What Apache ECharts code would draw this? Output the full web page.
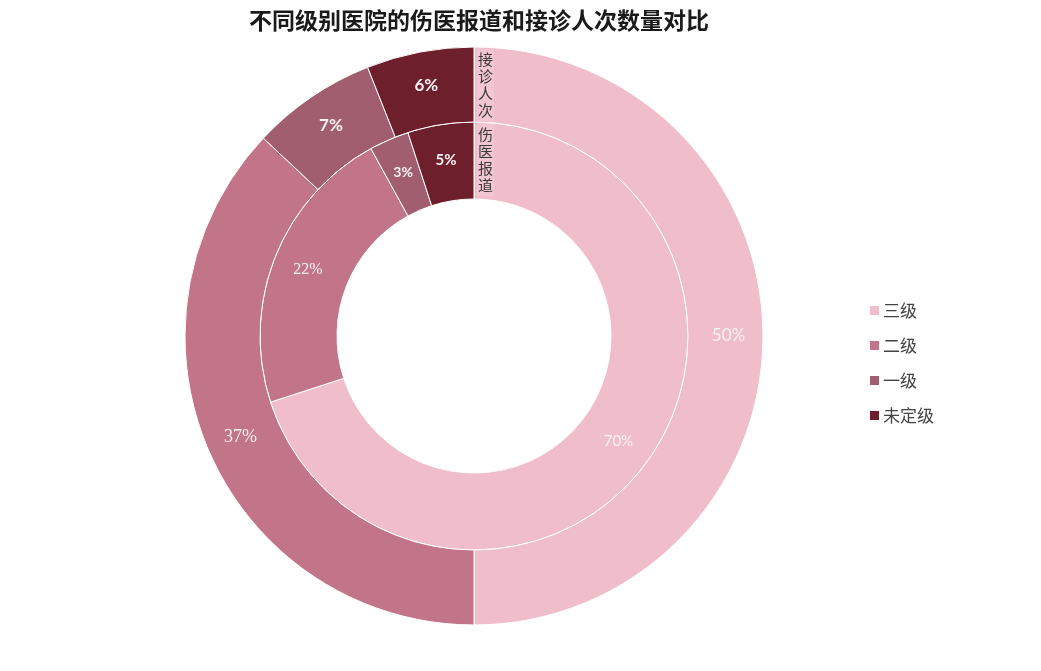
<!DOCTYPE html>
<html><head><meta charset="utf-8">
<script src="https://cdn.jsdelivr.net/npm/echarts@6/dist/echarts.min.js"></script>
<style>html,body{margin:0;padding:0;background:#fff}#c{width:1041px;height:671px}</style>
</head><body><div id="c"></div>
<script>
const titleText = '不同级别医院的伤医报道和接诊人次数量对比';
const categories = ['三级', '二级', '一级', '未定级'];
const visitShare = [50, 37, 7, 6];      // 接诊人次 (outer ring)
const reportShare = [70, 22, 3, 5];     // 伤医报道 (inner ring)
const ringNames = ['接诊人次', '伤医报道'];

const colors = ['#f0bdca', '#c27488', '#a05e6e', '#6e1f2c'];
const center = [474, 336];
const rHole = 137, rMid = 214, rOuter = 289;

const sans = 'Lato, "Open Sans", sans-serif';
const serif = '"Liberation Serif", "DejaVu Serif", serif';
const outerFonts = [{f: sans, s: 17, w: 'normal'}, {f: serif, s: 18, w: 'normal'}, {f: sans, s: 17, w: 'bold'}, {f: sans, s: 17, w: 'bold'}];
const innerFonts = [{f: sans, s: 15, w: 'normal'}, {f: serif, s: 16, w: 'normal'}, {f: sans, s: 14, w: 'bold'}, {f: sans, s: 15, w: 'bold'}];

function build(vals, fonts) {
  return categories.map((n, i) => ({
    name: n, value: vals[i],
    label: {fontFamily: fonts[i].f, fontSize: fonts[i].s, fontWeight: fonts[i].w}
  }));
}

const chart = echarts.init(document.getElementById('c'));
const cjk = '"Noto Sans CJK SC", sans-serif';
chart.setOption({
  backgroundColor: '#fff',
  color: colors,
  animation: false,
  title: {
    text: titleText, left: center[0], textAlign: 'center', top: 4,
    textStyle: {fontFamily: cjk, fontSize: 23, fontWeight: 'bold', color: '#1a1a1a'}
  },
  legend: {
    orient: 'vertical', left: 863, top: 297,
    itemWidth: 11, itemHeight: 11, itemGap: 18, icon: 'rect',
    data: categories,
    textStyle: {fontFamily: cjk, fontSize: 17, color: '#444', padding: [0, 0, 0, -2]}
  },
  series: [
    {
      name: ringNames[1], type: 'pie', center: center, radius: [rHole, rMid],
      startAngle: 90, clockwise: true,
      itemStyle: {borderColor: '#fff', borderWidth: 1},
      label: {position: 'inside', formatter: '{c}%', color: '#fbf2f4'},
      labelLine: {show: false},
      emphasis: {disabled: true},
      data: build(reportShare, innerFonts)
    },
    {
      name: ringNames[0], type: 'pie', center: center, radius: [rMid, rOuter],
      startAngle: 90, clockwise: true,
      itemStyle: {borderColor: '#fff', borderWidth: 1},
      label: {position: 'inside', formatter: '{c}%', color: '#fbf2f4'},
      labelLine: {show: false},
      emphasis: {disabled: true},
      data: build(visitShare, outerFonts)
    }
  ],
  graphic: [
    {
      type: 'text', left: center[0] + 3, top: center[1] - rOuter + 2,
      style: {text: ringNames[0].split('').join('\n'), fontFamily: cjk, fontSize: 15, lineHeight: 17, fill: '#3a3a3a',
        backgroundColor: 'rgba(255,255,255,0.15)', padding: [2, 1, 2, 1]}, z: 10
    },
    {
      type: 'text', left: center[0] + 3, top: center[1] - rMid + 2,
      style: {text: ringNames[1].split('').join('\n'), fontFamily: cjk, fontSize: 15, lineHeight: 17, fill: '#3a3a3a',
        backgroundColor: 'rgba(255,255,255,0.15)', padding: [2, 1, 2, 1]}, z: 10
    }
  ]
});
</script></body></html>
